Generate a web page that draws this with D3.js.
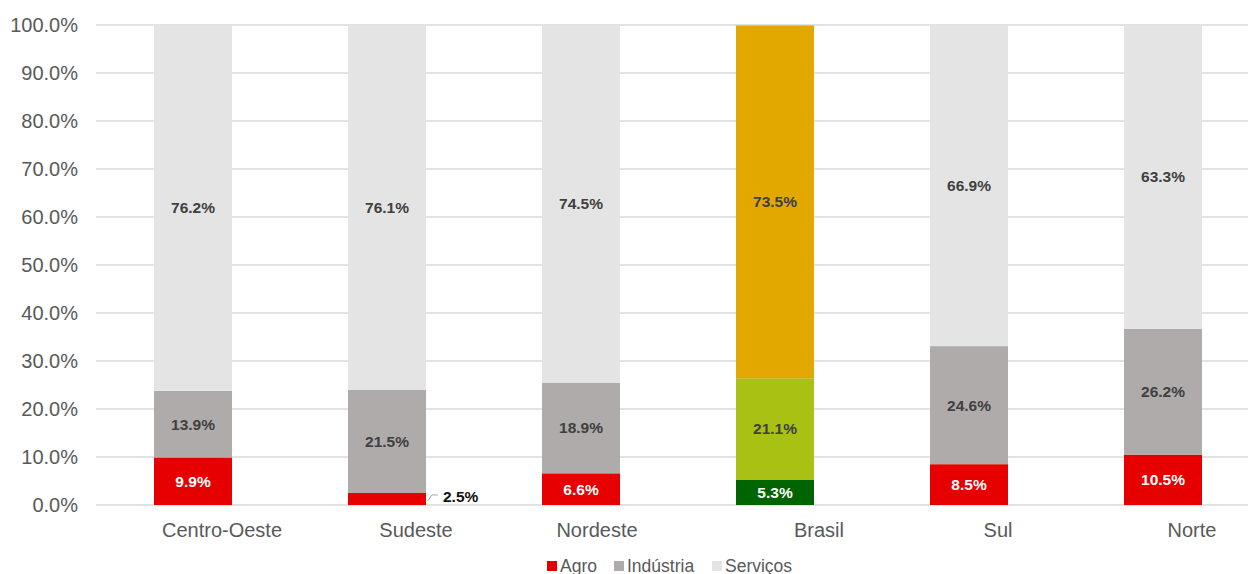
<!DOCTYPE html>
<html><head><meta charset="utf-8">
<script src="https://cdn.jsdelivr.net/npm/d3@7"></script>
<style>body{margin:0;background:#fff}svg{display:block;font-family:"Liberation Sans",Arial,sans-serif}</style>
</head><body><svg id="c" width="1248" height="574"></svg>
<script>
const categories = ["Centro-Oeste","Sudeste","Nordeste","Brasil","Sul","Norte"];
const agro = [9.9, 2.5, 6.6, 5.3, 8.5, 10.5];
const industria = [13.9, 21.5, 18.9, 21.1, 24.6, 26.2];
const servicos = [76.2, 76.1, 74.5, 73.5, 66.9, 63.3];
const seriesNames = ["Agro","Indústria","Serviços"];
const yTicks = [0,10,20,30,40,50,60,70,80,90,100];

const colors = {Agro:"#E60000", "Indústria":"#AEABAA", "Serviços":"#E4E4E4"};
const brasilColors = {Agro:"#006400", "Indústria":"#A9C113", "Serviços":"#E3A800"};
const labelColors = {Agro:"#ffffff", "Indústria":"#404040", "Serviços":"#404040"};
const labelDx = {"Centro-Oeste":29,"Sudeste":29,"Nordeste":16,"Brasil":44,"Sul":29,"Norte":29};

const svg = d3.select("#c");
const x = d3.scaleBand().domain(categories).range([96,1260]).paddingInner(0.598).paddingOuter(0.299);
const y = d3.scaleLinear().domain([0,100]).range([505,25]);

// gridlines
svg.append("g").selectAll("line").data(yTicks).join("line")
  .attr("x1",96).attr("x2",1248).attr("y1",d=>y(d)).attr("y2",d=>y(d))
  .attr("stroke","#D9D9D9").attr("stroke-width",1.3);

// y axis labels
const yAxis = d3.axisLeft(y).tickValues(yTicks).tickFormat(d=>d.toFixed(1)+"%").tickSize(0).tickPadding(0);
const ga = svg.append("g").attr("transform","translate(78,0)").call(yAxis);
ga.select(".domain").remove();
ga.selectAll("text").attr("font-size",20).attr("fill","#595959").attr("font-family","Liberation Sans, Arial, sans-serif");

const table = categories.map((c,i)=>({cat:c, Agro:agro[i], "Indústria":industria[i], "Serviços":servicos[i]}));
const stack = d3.stack().keys(seriesNames)(table);

stack.forEach(layer=>{
  const key = layer.key;
  const g = svg.append("g");
  g.selectAll("rect").data(layer).join("rect")
    .attr("x",d=>x(d.data.cat)).attr("width",x.bandwidth())
    .attr("y",d=>y(Math.min(d[1],100))).attr("height",d=>y(d[0])-y(Math.min(d[1],100)))
    .attr("fill",d=>d.data.cat==="Brasil"?brasilColors[key]:colors[key]);
  g.selectAll("text").data(layer).join("text")
    .attr("x",d=>{
      if(key==="Agro" && d.data.cat==="Sudeste") return x(d.data.cat)+x.bandwidth()+17;
      return x(d.data.cat)+x.bandwidth()/2;
    })
    .attr("y",d=>{
      if(key==="Agro" && d.data.cat==="Sudeste") return y(1.8);
      return y((d[0]+Math.min(d[1],100))/2);
    })
    .attr("dy","0.35em")
    .attr("text-anchor",d=>(key==="Agro"&&d.data.cat==="Sudeste")?"start":"middle")
    .attr("font-size",15.5).attr("font-weight","bold")
    .attr("fill",d=>{
      if(key==="Agro" && d.data.cat==="Sudeste") return "#111111";
      if(d.data.cat==="Brasil" && key==="Agro") return "#ffffff";
      return labelColors[key];
    })
    .text(d=>(d[1]-d[0]).toFixed(1)+"%");
});

// leader line for small Sudeste label
const sx = x("Sudeste")+x.bandwidth();
svg.append("path")
  .attr("d",`M${sx+2},${y(0.9)} L${sx+6},${y(2.1)} L${sx+12},${y(2.1)}`)
  .attr("fill","none").attr("stroke","#A6A6A6").attr("stroke-width",1);

// x labels
svg.append("g").selectAll("text").data(categories).join("text")
  .attr("x",d=>x(d)+x.bandwidth()/2+labelDx[d]).attr("y",530).attr("dy","0.35em")
  .attr("text-anchor","middle").attr("font-size",20).attr("fill","#595959").text(d=>d);

// legend
const legX = [547,614,712];
const lg = svg.append("g").selectAll("g").data(seriesNames).join("g")
  .attr("transform",(d,i)=>`translate(${legX[i]},566)`);
lg.append("rect").attr("x",0).attr("y",-5).attr("width",10).attr("height",10).attr("fill",d=>colors[d]);
lg.append("text").attr("x",13).attr("y",0).attr("dy","0.35em").attr("font-size",17.5).attr("fill","#595959").text(d=>d);
</script></body></html>
